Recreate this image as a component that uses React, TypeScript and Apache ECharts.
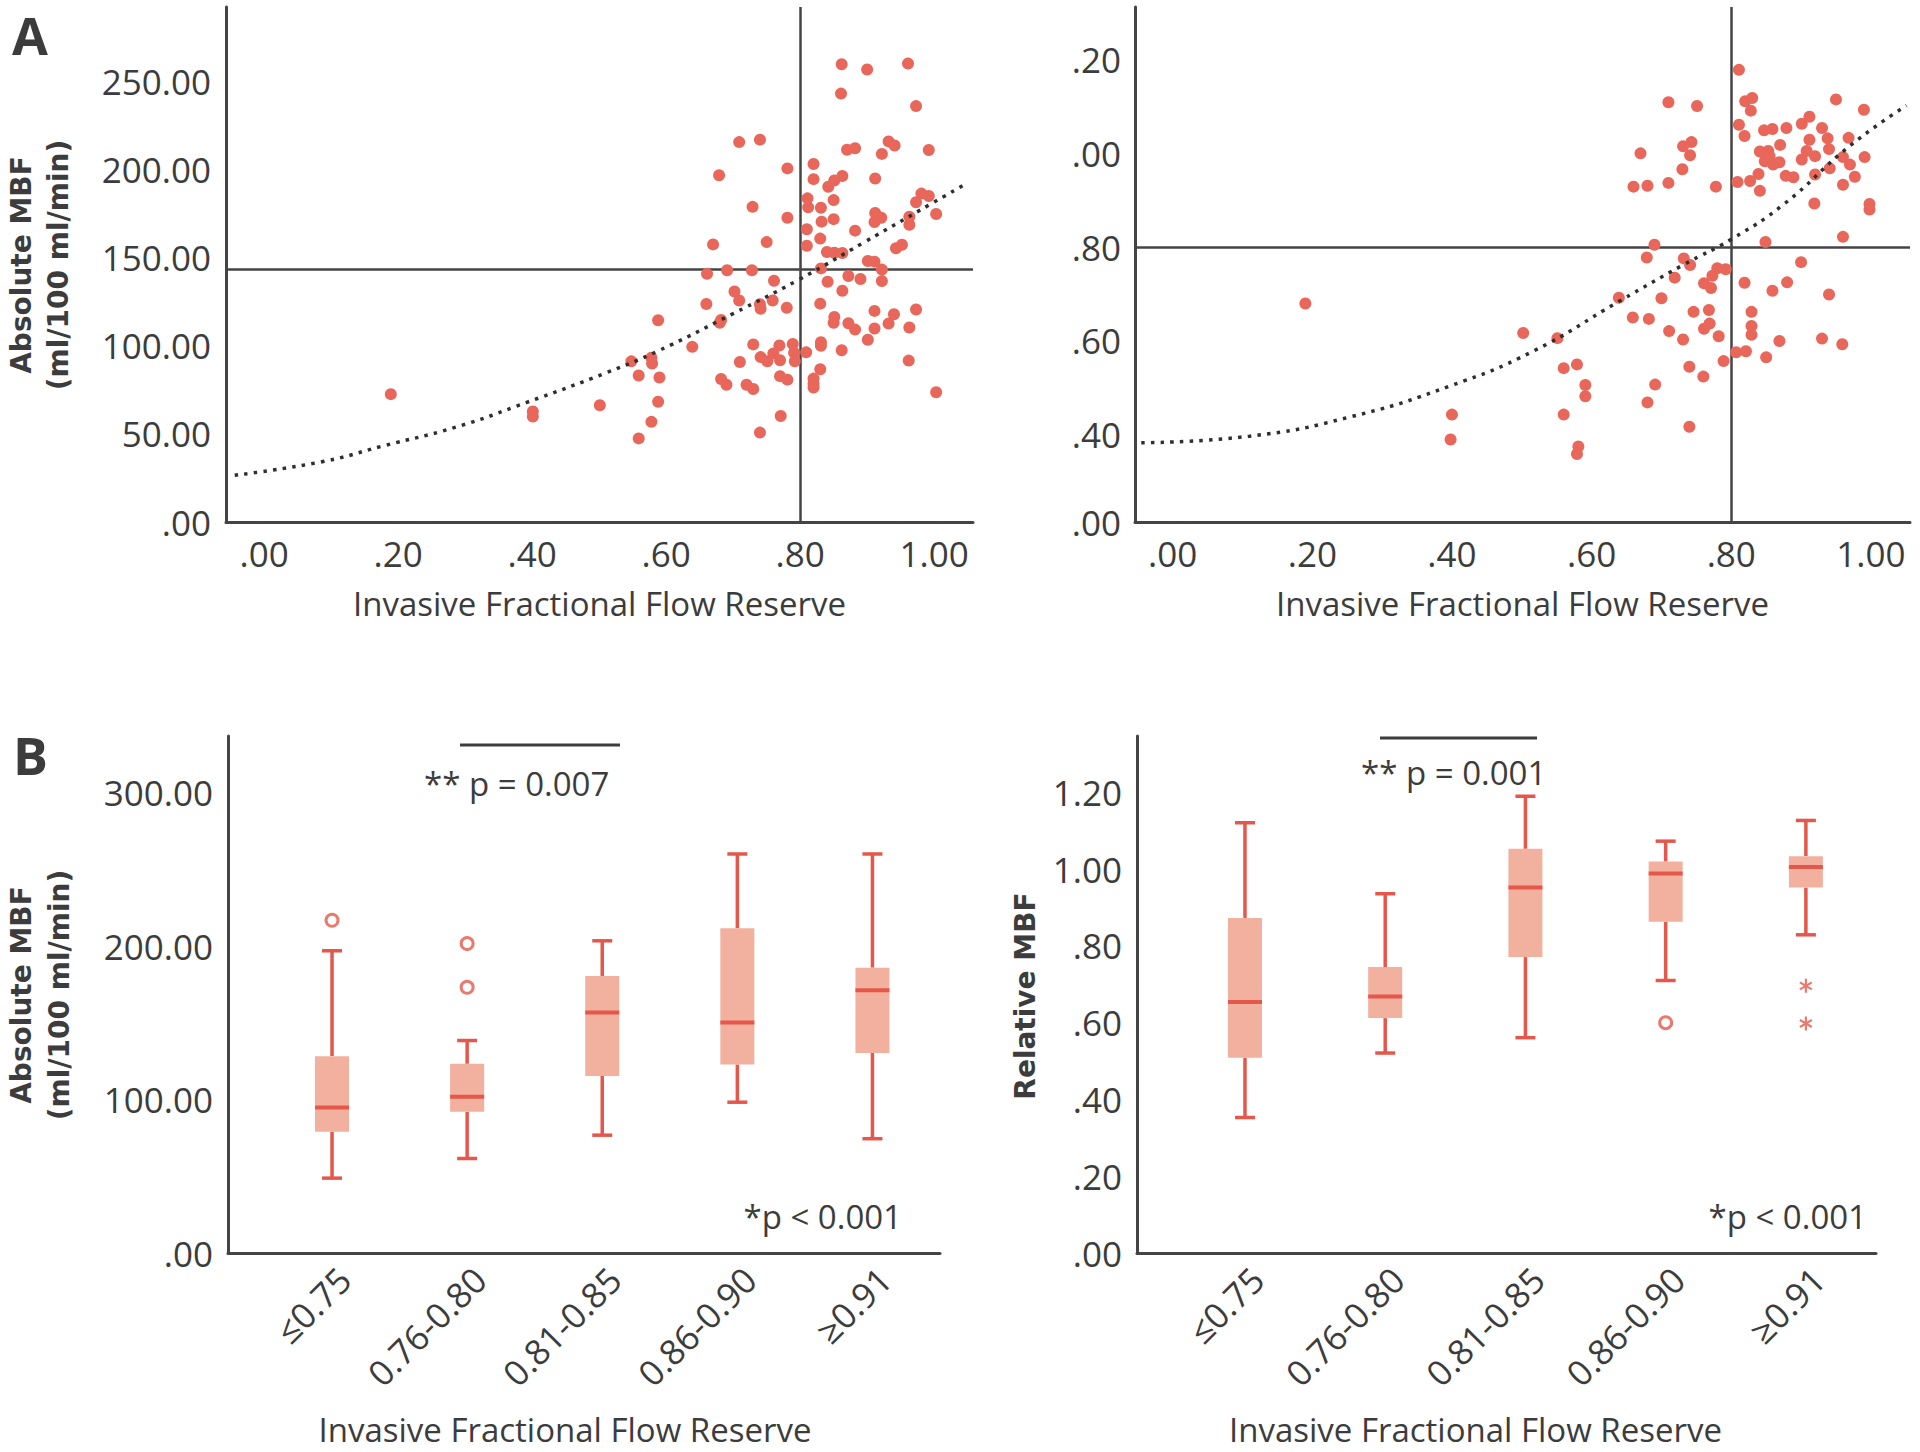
import React, { useEffect, useRef } from 'react';
import * as echarts from 'echarts';

// ---------------- data ----------------
// Panel A left: invasive FFR vs absolute MBF
const absScatter: number[][] = [
  [0.189, 72.5], [0.401, 62.7], [0.401, 59.8], [0.501, 66.2],
  [0.862, 259.5], [0.900, 256.6], [0.961, 260], [0.861, 242.9], [0.973, 235.8],
  [0.709, 215.4], [0.740, 216.8], [0.870, 211.1], [0.882, 211.9], [0.932, 215.8], [0.941, 213.5], [0.922, 208.7], [0.992, 210.9],
  [0.820, 203], [0.781, 200.5], [0.679, 196.6], [0.820, 194.4], [0.851, 193.6], [0.863, 196.2], [0.842, 190.1], [0.912, 194.8],
  [0.981, 186.2], [0.992, 184.8], [0.973, 181.3], [1.003, 174.6], [0.811, 183.5], [0.850, 182.5], [0.812, 178.4], [0.831, 178.2], [0.729, 178.7],
  [0.781, 172.5], [0.832, 170.3], [0.850, 171.7], [0.912, 175.2], [0.921, 172.5], [0.911, 170.1], [0.963, 173.1], [0.963, 168.5],
  [0.810, 166], [0.882, 165.2], [0.830, 160.7], [0.670, 157.4], [0.750, 158.7], [0.810, 156.6], [0.943, 155.2], [0.952, 157.2],
  [0.840, 153.1], [0.851, 152.7], [0.863, 152.5], [0.901, 148], [0.911, 147.6], [0.922, 143.1],
  [0.661, 140.7], [0.691, 142.7], [0.728, 142.7], [0.831, 143.8], [0.761, 136.8], [0.841, 136.2], [0.872, 139.5], [0.890, 137.8], [0.922, 136.6],
  [0.702, 130.7], [0.863, 131.1], [0.709, 125.6], [0.759, 125.6], [0.660, 123.6], [0.740, 123.5], [0.741, 120.9], [0.780, 121.5], [0.830, 123.8],
  [0.588, 114.4], [0.680, 113], [0.682, 114.5], [0.851, 116.2], [0.850, 113], [0.872, 112.7], [0.882, 109.1], [0.911, 119.7], [0.940, 117.8],
  [0.973, 120.5], [0.932, 112.5], [0.911, 109.7], [0.963, 110.3],
  [0.639, 99.3], [0.730, 100.7], [0.769, 100.1], [0.789, 100.9], [0.831, 101.9], [0.831, 99.9], [0.901, 103.3], [0.862, 97.4], [0.809, 96.2],
  [0.548, 91.1], [0.578, 93.1], [0.579, 89.9], [0.710, 90.7], [0.741, 93.5], [0.751, 91.1], [0.760, 95.6], [0.770, 91.7], [0.791, 96],
  [0.792, 91.1], [0.830, 86.6], [0.962, 91.5],
  [0.559, 83.1], [0.590, 81.9], [0.682, 81.1], [0.690, 77.8], [0.720, 77.8], [0.730, 75.4], [0.770, 82.7], [0.781, 80.7], [0.820, 81.3],
  [0.820, 78.4], [0.820, 76.2], [1.003, 73.6],
  [0.588, 68.2], [0.578, 56.8], [0.771, 60.1], [0.559, 47.4], [0.740, 50.7],
];
const absFitCurve: number[][] = [
  [-0.044, 26.5], [0.088, 34.3], [0.177, 43.1], [0.287, 53.9], [0.391, 67.7], [0.511, 84.7],
  [0.588, 97], [0.697, 117.6], [0.797, 137.2], [0.896, 158.7], [0.995, 180.3], [1.044, 191],
];

// Panel A right: invasive FFR vs relative MBF
const relScatter: number[][] = [
  [0.190, 0.680], [0.400, 0.443], [0.398, 0.390], [0.502, 0.617],
  [0.811, 1.178], [0.710, 1.109], [0.751, 1.101], [0.820, 1.111], [0.830, 1.118], [0.828, 1.091], [0.950, 1.115], [0.990, 1.093],
  [0.811, 1.061], [0.819, 1.037], [0.847, 1.049], [0.859, 1.052], [0.879, 1.054], [0.901, 1.063], [0.912, 1.078], [0.930, 1.054],
  [0.938, 1.032], [0.968, 1.033], [0.912, 1.029],
  [0.670, 1.000], [0.731, 1.015], [0.743, 1.024], [0.741, 0.996], [0.730, 0.966],
  [0.841, 1.004], [0.853, 1.005], [0.870, 1.018], [0.848, 0.983], [0.860, 0.976], [0.869, 0.981], [0.855, 0.994], [0.908, 1.005],
  [0.901, 0.987], [0.920, 0.994], [0.940, 1.009], [0.941, 0.968], [0.960, 0.992], [0.991, 0.992], [0.970, 0.976], [0.977, 0.950], [0.960, 0.933],
  [0.839, 0.956], [0.827, 0.941], [0.841, 0.920], [0.878, 0.952], [0.889, 0.949], [0.920, 0.955], [0.809, 0.939],
  [0.660, 0.929], [0.680, 0.931], [0.710, 0.937], [0.778, 0.929],
  [0.919, 0.893], [0.998, 0.892], [0.998, 0.880], [0.960, 0.822], [0.849, 0.811],
  [0.690, 0.805], [0.679, 0.778], [0.732, 0.776], [0.741, 0.762], [0.780, 0.755], [0.792, 0.753], [0.773, 0.739], [0.761, 0.723],
  [0.771, 0.713], [0.719, 0.735], [0.900, 0.768], [0.819, 0.724], [0.859, 0.707], [0.880, 0.725], [0.940, 0.699],
  [0.639, 0.692], [0.700, 0.691], [0.659, 0.650], [0.682, 0.647], [0.746, 0.662], [0.768, 0.666], [0.769, 0.637], [0.761, 0.626],
  [0.782, 0.610], [0.829, 0.662], [0.829, 0.632], [0.829, 0.613], [0.711, 0.621], [0.731, 0.603], [0.869, 0.600], [0.930, 0.605], [0.959, 0.593],
  [0.807, 0.576], [0.821, 0.578], [0.850, 0.565], [0.789, 0.557],
  [0.551, 0.606], [0.560, 0.542], [0.579, 0.550], [0.591, 0.506], [0.591, 0.482], [0.691, 0.507], [0.680, 0.469], [0.740, 0.545],
  [0.760, 0.524], [0.560, 0.443], [0.740, 0.417], [0.581, 0.375], [0.579, 0.359],
];
const relFitCurve: number[][] = [
  [-0.045, 0.383], [0.110, 0.397], [0.254, 0.438], [0.397, 0.504], [0.516, 0.578], [0.640, 0.685],
  [0.731, 0.762], [0.800, 0.817], [0.874, 0.890], [0.970, 1.016], [1.051, 1.102],
];
const ffrCutoff = 0.8;
const absCutoff = 143.5;
const relCutoff = 0.8;

const scatterXTicks = [0, 0.2, 0.4, 0.6, 0.8, 1.0];
const scatterXLabels = ['.00', '.20', '.40', '.60', '.80', '1.00'];
const absYTicks = [0, 50, 100, 150, 200, 250];
const absYLabels = ['.00', '50.00', '100.00', '150.00', '200.00', '250.00'];
const relYTicks = [0.214, 0.4, 0.6, 0.8, 1.0, 1.2];
const relYLabels = ['.00', '.40', '.60', '.80', '.00', '.20'];

// Panel B: box plots by FFR group, [min, Q1, median, Q3, max]
const ffrGroups = ['≤0.75', '0.76-0.80', '0.81-0.85', '0.86-0.90', '≥0.91'];
const groupPositions = [1, 2, 3, 4, 5];
const absBoxes: number[][] = [
  [48.8, 79, 94.8, 128.3, 197],
  [61.6, 92, 101.8, 123.3, 138.5],
  [76.8, 115.4, 156.8, 180.6, 203.5],
  [98.3, 122.9, 150.2, 211.7, 260.1],
  [74.5, 130.4, 171.3, 186, 260.1],
];
const absOutliers: number[][] = [[1, 216.9], [2, 201.7], [2, 173.2]];
const relBoxes: number[][] = [
  [0.353, 0.509, 0.654, 0.873, 1.121],
  [0.521, 0.612, 0.668, 0.745, 0.936],
  [0.561, 0.771, 0.952, 1.053, 1.19],
  [0.71, 0.863, 0.989, 1.02, 1.073],
  [0.829, 0.952, 1.006, 1.034, 1.127],
];
const relOutliers: number[][] = [[4, 0.6]];
const relExtremes: number[][] = [[5, 0.696], [5, 0.598]];
const boxAbsYTicks = [0, 100, 200, 300];
const boxAbsYLabels = ['.00', '100.00', '200.00', '300.00'];
const boxRelYTicks = [0, 0.2, 0.4, 0.6, 0.8, 1.0, 1.2];
const boxRelYLabels = ['.00', '.20', '.40', '.60', '.80', '1.00', '1.20'];

// ---------------- styling ----------------
const DOT = '#E8675A';
const RED = '#E5574A';
const BOX_FILL = '#F2B09E';
const INK = '#3c3c3c';
const AXIS = '#444444';
const FONT = 'Open Sans';
const BOX_W = 34;
const CAP_W = 20;
const ASTERISK =
  'path://M42 0L58 0L58 100L42 100Z M10.7 81.9L2.7 68.1L89.3 18.1L97.3 31.9Z M2.7 31.9L10.7 18.1L97.3 68.1L89.3 81.9Z';

const lookup = (vals: number[], labels: string[]) => (v: number) => {
  const i = vals.findIndex((t) => Math.abs(t - v) < 1e-6);
  return i >= 0 ? labels[i] : '';
};

const axisBase = (extra: any) => ({
  type: 'value',
  axisLine: { show: true, onZero: false, lineStyle: { color: AXIS, width: 3 } },
  axisTick: { show: false },
  splitLine: { show: false },
  ...extra,
});

const boxRender = (_params: any, api: any) => {
  const x = api.value(0);
  const pMin = api.coord([x, api.value(1)]);
  const pQ1 = api.coord([x, api.value(2)]);
  const pMed = api.coord([x, api.value(3)]);
  const pQ3 = api.coord([x, api.value(4)]);
  const pMax = api.coord([x, api.value(5)]);
  const cx = pMed[0];
  const hw = BOX_W / 2;
  const cw = CAP_W / 2;
  const ls = { stroke: RED, lineWidth: 3.5 };
  return {
    type: 'group',
    children: [
      { type: 'line', shape: { x1: cx, y1: pMax[1], x2: cx, y2: pQ3[1] }, style: ls },
      { type: 'line', shape: { x1: cx, y1: pQ1[1], x2: cx, y2: pMin[1] }, style: ls },
      { type: 'line', shape: { x1: cx - cw, y1: pMax[1], x2: cx + cw, y2: pMax[1] }, style: ls },
      { type: 'line', shape: { x1: cx - cw, y1: pMin[1], x2: cx + cw, y2: pMin[1] }, style: ls },
      { type: 'rect', shape: { x: cx - hw, y: pQ3[1], width: BOX_W, height: pQ1[1] - pQ3[1] }, style: { fill: BOX_FILL } },
      { type: 'line', shape: { x1: cx - hw, y1: pMed[1], x2: cx + hw, y2: pMed[1] }, style: { stroke: RED, lineWidth: 4 } },
    ],
  };
};

const tickLabel = (vals: number[], labels: string[], margin: number) => ({
  customValues: vals,
  formatter: lookup(vals, labels),
  color: INK,
  fontFamily: FONT,
  fontSize: 35,
  margin,
});

const groupLabel = {
  customValues: groupPositions,
  formatter: lookup(groupPositions, ffrGroups),
  color: INK,
  fontFamily: FONT,
  fontSize: 35,
  rotate: 45,
  verticalAlign: 'top',
  margin: 8,
};

const xName = (gap: number, pad: number[]) => ({
  name: 'Invasive Fractional Flow Reserve',
  nameLocation: 'middle',
  nameGap: gap,
  nameTextStyle: { color: INK, fontFamily: FONT, fontSize: 33, padding: pad },
});

const refLines = (axisKey: 'xAxis' | 'yAxis', value: number) => ({ [axisKey]: value });

const yTitle = (text: string, x: number, y: number) => ({
  type: 'text',
  x,
  y,
  rotation: Math.PI / 2,
  style: { text, fontFamily: 'DejaVu Sans', fontWeight: 'bold', fontSize: 28, fill: INK, align: 'center', verticalAlign: 'middle' },
});

const note = (text: string, x: number, y: number, align: string) => ({
  type: 'text',
  x,
  y,
  style: { text, fontFamily: FONT, fontSize: 33, fill: INK, align, verticalAlign: 'middle' },
});

const option: any = {
  animation: false,
  backgroundColor: '#ffffff',
  grid: [
    { left: 226, top: 7, right: 947, bottom: 930, outerBoundsMode: 'none' },
    { left: 1135, top: 7, right: 10, bottom: 930, outerBoundsMode: 'none' },
    { left: 228, top: 736, right: 980, bottom: 199, outerBoundsMode: 'none' },
    { left: 1137, top: 736, right: 44, bottom: 199, outerBoundsMode: 'none' },
  ],
  xAxis: [
    axisBase({ gridIndex: 0, min: -0.057, max: 1.058, axisLabel: tickLabel(scatterXTicks, scatterXLabels, 14), ...xName(65, [0, 0, 0, 0]) }),
    axisBase({ gridIndex: 1, min: -0.054, max: 1.056, axisLabel: tickLabel(scatterXTicks, scatterXLabels, 14), ...xName(65, [0, 0, 0, 0]) }),
    axisBase({ gridIndex: 2, min: 0.23, max: 5.5, axisLabel: groupLabel, ...xName(160, [0, 38, 0, 0]) }),
    axisBase({ gridIndex: 3, min: 0.23, max: 5.5, axisLabel: groupLabel, ...xName(160, [0, 62, 0, 0]) }),
  ],
  yAxis: [
    axisBase({ gridIndex: 0, min: 0, max: 292, axisLabel: tickLabel(absYTicks, absYLabels, 15) }),
    axisBase({ gridIndex: 1, min: 0.214, max: 1.312, axisLabel: tickLabel(relYTicks, relYLabels, 14) }),
    axisBase({ gridIndex: 2, min: 0, max: 337, axisLabel: tickLabel(boxAbsYTicks, boxAbsYLabels, 15) }),
    axisBase({ gridIndex: 3, min: 0, max: 1.347, axisLabel: tickLabel(boxRelYTicks, boxRelYLabels, 15) }),
  ],
  series: [
    {
      type: 'scatter', xAxisIndex: 0, yAxisIndex: 0, data: absScatter, symbolSize: 12, z: 3,
      itemStyle: { color: DOT, opacity: 1 },
      markLine: {
        silent: true, symbol: 'none', z: 1, label: { show: false },
        lineStyle: { color: AXIS, width: 2.5, type: 'solid' },
        data: [refLines('xAxis', ffrCutoff), refLines('yAxis', absCutoff)],
      },
    },
    {
      type: 'line', xAxisIndex: 0, yAxisIndex: 0, data: absFitCurve, smooth: true, showSymbol: false, symbol: 'none', z: 4,
      lineStyle: { color: '#2f2f2f', width: 3.5, type: [3.5, 6.2] },
    },
    {
      type: 'scatter', xAxisIndex: 1, yAxisIndex: 1, data: relScatter, symbolSize: 12, z: 3,
      itemStyle: { color: DOT, opacity: 1 },
      markLine: {
        silent: true, symbol: 'none', z: 1, label: { show: false },
        lineStyle: { color: AXIS, width: 2.5, type: 'solid' },
        data: [refLines('xAxis', ffrCutoff), refLines('yAxis', relCutoff)],
      },
    },
    {
      type: 'line', xAxisIndex: 1, yAxisIndex: 1, data: relFitCurve, smooth: true, showSymbol: false, symbol: 'none', z: 4,
      lineStyle: { color: '#2f2f2f', width: 3.5, type: [3.5, 6.2] },
    },
    {
      type: 'custom', xAxisIndex: 2, yAxisIndex: 2, renderItem: boxRender,
      encode: { x: 0, y: [1, 2, 3, 4, 5] },
      data: absBoxes.map((b, i) => [groupPositions[i], ...b]),
    },
    {
      type: 'scatter', xAxisIndex: 2, yAxisIndex: 2, data: absOutliers, symbol: 'circle', symbolSize: 12, z: 4,
      itemStyle: { color: '#ffffff', borderColor: RED, borderWidth: 3 },
    },
    {
      type: 'custom', xAxisIndex: 3, yAxisIndex: 3, renderItem: boxRender,
      encode: { x: 0, y: [1, 2, 3, 4, 5] },
      data: relBoxes.map((b, i) => [groupPositions[i], ...b]),
    },
    {
      type: 'scatter', xAxisIndex: 3, yAxisIndex: 3, data: relOutliers, symbol: 'circle', symbolSize: 12, z: 4,
      itemStyle: { color: '#ffffff', borderColor: RED, borderWidth: 3 },
    },
    {
      type: 'scatter', xAxisIndex: 3, yAxisIndex: 3, data: relExtremes, symbol: ASTERISK, symbolSize: [13, 14], z: 4,
      itemStyle: { color: RED },
    },
  ],
  graphic: [
    { type: 'text', x: 12, y: 34, style: { text: 'A', fontFamily: FONT, fontWeight: 'bold', fontSize: 52, fill: INK, align: 'left', verticalAlign: 'middle' } },
    { type: 'text', x: 13, y: 754, style: { text: 'B', fontFamily: FONT, fontWeight: 'bold', fontSize: 52, fill: INK, align: 'left', verticalAlign: 'middle' } },
    yTitle('Absolute MBF', 21, 265),
    yTitle('(ml/100 ml/min)', 58, 265),
    yTitle('Absolute MBF', 21, 995),
    yTitle('(ml/100 ml/min)', 59, 995),
    yTitle('Relative MBF', 1025, 996),
    { type: 'line', shape: { x1: 460, y1: 745, x2: 620, y2: 745 }, style: { stroke: INK, lineWidth: 3 } },
    { type: 'line', shape: { x1: 1380, y1: 738, x2: 1537, y2: 738 }, style: { stroke: INK, lineWidth: 3 } },
    note('** p = 0.007', 424, 783, 'left'),
    note('** p = 0.001', 1361, 772, 'left'),
    note('*p < 0.001', 902, 1216, 'right'),
    note('*p < 0.001', 1867, 1216, 'right'),
  ],
};

export default function App() {
  const ref = useRef<HTMLDivElement>(null);
  useEffect(() => {
    document.body.style.margin = '0';
    const chart = echarts.init(ref.current as HTMLDivElement, null, { renderer: 'svg' });
    chart.setOption(option);
    return () => chart.dispose();
  }, []);
  return <div ref={ref} style={{ width: 1920, height: 1452 }} />;
}
